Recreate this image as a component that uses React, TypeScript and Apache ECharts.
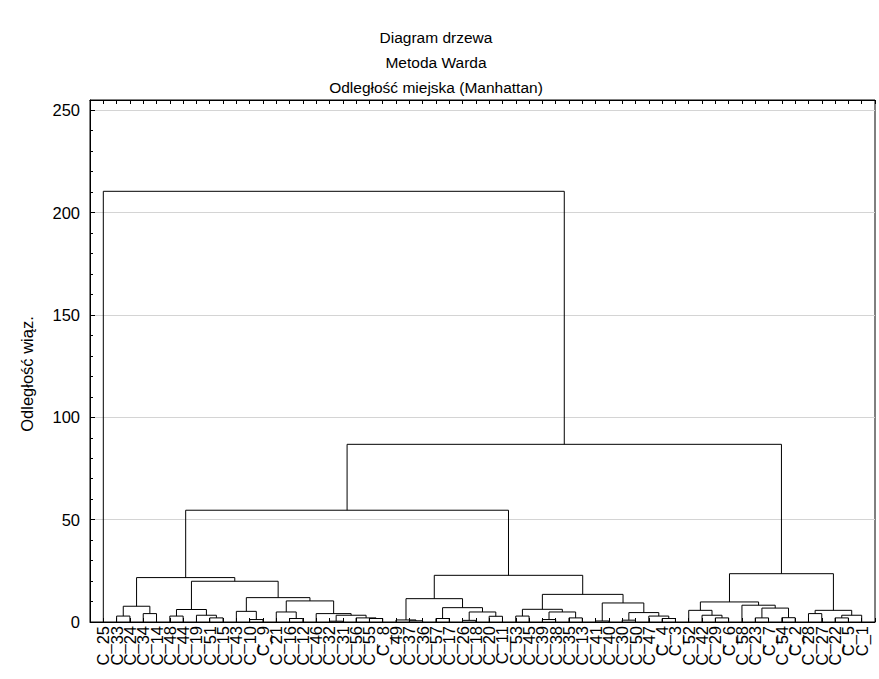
import React, { useEffect, useRef } from "react";
import * as echarts from "echarts";

const TITLE_LINES = ["Diagram drzewa", "Metoda Warda", "Odległość miejska (Manhattan)"];
const Y_NAME = "Odległość wiąz.";

const LEAVES = [
  "C_25", "C_33", "C_24", "C_34", "C_14", "C_48", "C_44", "C_19", "C_51", "C_15",
  "C_43", "C_10", "C_9", "C_21", "C_16", "C_12", "C_46", "C_32", "C_31", "C_56",
  "C_55", "C_8", "C_49", "C_37", "C_36", "C_57", "C_17", "C_26", "C_18", "C_20",
  "C_11", "C_53", "C_45", "C_39", "C_38", "C_35", "C_13", "C_41", "C_40", "C_30",
  "C_50", "C_47", "C_4", "C_3", "C_52", "C_42", "C_29", "C_6", "C_58", "C_23",
  "C_7", "C_54", "C_2", "C_28", "C_27", "C_22", "C_5", "C_1",
];

// linkage: [left child, right child, height]; strings = leaves, numbers = earlier merges
const MERGES: [string | number, string | number, number][] = [
  ["C_32", "C_31", 0.4], // 0
  ["C_41", "C_40", 0.5], // 1
  ["C_37", "C_36", 0.6], // 2
  ["C_26", "C_18", 0.8], // 3
  ["C_30", "C_50", 0.9], // 4
  ["C_49", 2, 1.0], // 5
  ["C_10", "C_9", 1.2], // 6
  ["C_39", "C_38", 1.2], // 7
  ["C_16", "C_12", 1.7], // 8
  ["C_55", "C_8", 1.7], // 9
  ["C_57", "C_17", 1.7], // 10
  ["C_4", "C_3", 1.7], // 11
  ["C_51", "C_15", 2.0], // 12
  ["C_56", 9, 2.0], // 13
  ["C_35", "C_13", 2.0], // 14
  ["C_29", "C_6", 2.0], // 15
  ["C_23", "C_7", 2.0], // 16
  ["C_54", "C_2", 2.1], // 17
  ["C_22", "C_5", 2.0], // 18
  ["C_20", "C_11", 2.8], // 19
  ["C_33", "C_24", 2.9], // 20
  ["C_48", "C_44", 2.9], // 21
  ["C_53", "C_45", 2.9], // 22
  ["C_47", 11, 2.9], // 23
  ["C_19", 12, 3.3], // 24
  [0, 13, 3.3], // 25
  ["C_42", 15, 3.3], // 26
  [18, "C_1", 3.3], // 27
  ["C_34", "C_14", 4.1], // 28
  ["C_46", 25, 4.1], // 29
  ["C_28", "C_27", 4.1], // 30
  [4, 23, 4.6], // 31
  ["C_21", 8, 4.9], // 32
  [3, 19, 4.9], // 33
  [7, 14, 4.9], // 34
  ["C_43", 6, 5.2], // 35
  [30, 27, 5.7], // 36
  ["C_52", 26, 5.7], // 37
  [21, 24, 6.1], // 38
  [22, 34, 6.2], // 39
  [16, 17, 6.8], // 40
  [10, 33, 7.0], // 41
  [20, 28, 7.7], // 42
  ["C_58", 40, 8.2], // 43
  [1, 31, 9.3], // 44
  [37, 43, 9.8], // 45
  [32, 29, 10.3], // 46
  [5, 41, 11.4], // 47
  [35, 46, 11.9], // 48
  [39, 44, 13.5], // 49
  [38, 48, 19.9], // 50
  [42, 50, 21.7], // 51
  [47, 49, 22.8], // 52
  [45, 36, 23.6], // 53
  [51, 52, 54.6], // 54
  [54, 53, 86.8], // 55
  ["C_25", 55, 210.4], // 56
];

const Y_TICKS = [0, 50, 100, 150, 200, 250];

function buildSegments() {
  const pos = new Map<string | number, { x: number; h: number }>();
  LEAVES.forEach((n, i) => pos.set(n, { x: i + 1, h: 0 }));
  const segs: { coords: number[][] }[] = [];
  MERGES.forEach(([a, b, h], k) => {
    const A = pos.get(a)!;
    const B = pos.get(b)!;
    segs.push({ coords: [[A.x, A.h], [A.x, h], [B.x, h], [B.x, B.h]] });
    pos.set(k, { x: (A.x + B.x) / 2, h });
  });
  return segs;
}

export default function App() {
  const ref = useRef<HTMLDivElement>(null);
  useEffect(() => {
    if (!ref.current) return;
    const chart = echarts.init(ref.current, null, { renderer: "svg" });
    const font = "Arial, 'Liberation Sans', sans-serif";
    chart.setOption({
      animation: false,
      backgroundColor: "#ffffff",
      title: {
        text: TITLE_LINES.join("\n"),
        left: 431,
        top: 20,
        textAlign: "center",
        textStyle: { fontFamily: font, fontSize: 15.5, fontWeight: "normal", color: "#000", lineHeight: 25 },
      },
      graphic: [
        {
          type: "text",
          x: 27,
          y: 374,
          rotation: Math.PI / 2,
          style: {
            text: Y_NAME,
            fontFamily: font,
            fontSize: 16.5,
            fill: "#000",
            textAlign: "center",
            textVerticalAlign: "middle",
          },
        },
      ],
      grid: { left: 90, right: 4, top: 100, bottom: 57, show: true, borderColor: "#000", borderWidth: 1, backgroundColor: "transparent" },
      xAxis: [
        {
          type: "value",
          position: "bottom",
          min: 0,
          max: LEAVES.length + 1,
          interval: 1,
          axisLine: { show: true, onZero: false, lineStyle: { color: "#000", width: 1 } },
          axisTick: { show: true, inside: true, length: 4, lineStyle: { color: "#000" } },
          splitLine: { show: false },
          axisLabel: {
            rotate: 90,
            margin: 4,
            fontFamily: font,
            fontSize: 16.5,
            color: "#000",
            formatter: (v: number) => LEAVES[v - 1] ?? "",
          },
        },
        {
          type: "value",
          position: "top",
          min: 0,
          max: LEAVES.length + 1,
          interval: 1,
          axisLine: { show: true, onZero: false, lineStyle: { color: "#000", width: 1 } },
          axisTick: { show: true, inside: true, length: 4, lineStyle: { color: "#000" } },
          splitLine: { show: false },
          axisLabel: { show: false },
        },
      ],
      yAxis: {
        type: "value",
        min: 0,
        max: 255,
        interval: 50,
        axisLine: { show: true, lineStyle: { color: "#000", width: 1 } },
        axisTick: { show: true, inside: true, length: 5, lineStyle: { color: "#000" } },
        minorTick: { show: true, splitNumber: 5, length: 3, lineStyle: { color: "#000" } },
        splitLine: { show: true, lineStyle: { color: "#d4d4d4", width: 1 } },
        axisLabel: {
          margin: 10,
          fontFamily: font,
          fontSize: 16.5,
          color: "#000",
          showMaxLabel: false,
          formatter: (v: number) => (Y_TICKS.includes(v) ? String(v) : ""),
        },
      },
      series: [
        {
          type: "lines",
          coordinateSystem: "cartesian2d",
          xAxisIndex: 0,
          yAxisIndex: 0,
          polyline: true,
          silent: true,
          lineStyle: { color: "#000", width: 1, opacity: 1 },
          data: buildSegments(),
        },
      ],
    });
    return () => chart.dispose();
  }, []);
  return (
    <div
      ref={ref}
      style={{ position: "fixed", left: 0, top: 0, width: 879, height: 679, background: "#fff" }}
    />
  );
}
